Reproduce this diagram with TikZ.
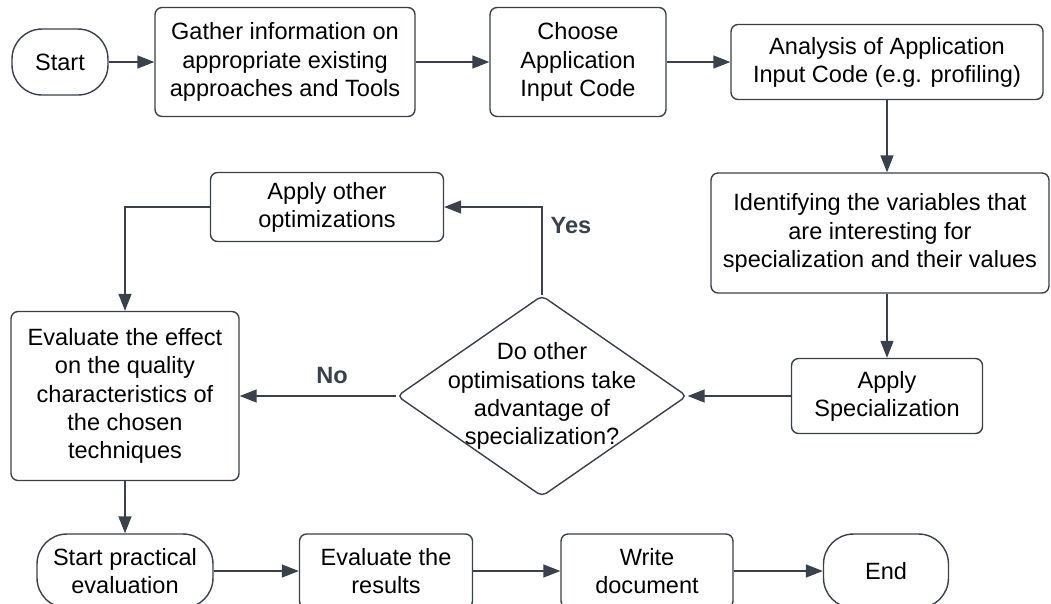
\documentclass[tikz,border=0pt]{standalone}
\usepackage{fontspec}
\setmainfont{Liberation Sans}
\usetikzlibrary{shapes.geometric,arrows.meta}
\definecolor{linegray}{HTML}{3A414A}
\tikzset{
    box/.style={draw=linegray, line width=0.8pt, rounded corners=4pt, align=center, inner sep=2pt},
    terminal/.style={box, rounded corners=0.6cm},
    decision/.style={draw=linegray, line width=0.8pt, diamond, rounded corners=3pt,
        minimum width=5.8cm, minimum height=4.02cm, inner sep=0pt},
    flow/.style={draw=linegray, line width=0.8pt, -{Triangle[length=0.34cm,width=0.26cm]}},
    answer/.style={font=\fontsize{13.4pt}{16pt}\selectfont\bfseries, text=linegray},
}
\begin{document}
\begin{tikzpicture}[x=0.02cm, y=-0.02cm, font=\fontsize{13.4pt}{16pt}\selectfont]
    \useasboundingbox (0,0) rectangle (1051,603);
    % Top row
        \node[terminal, minimum width=1.92cm, minimum height=1.32cm] (start) at (60,62) {Start};
        \node[box, minimum width=5.2cm, minimum height=2.18cm] (gather) at (285,62) {Gather information on\\appropriate existing\\approaches and Tools};
        \node[box, minimum width=3.52cm, minimum height=2.18cm] (choose) at (578,62) {Choose\\Application\\Input Code};
        \node[box, minimum width=6.24cm, minimum height=1.5cm] (analysis) at (887,62) {Analysis of Application\\Input Code (e.g. profiling)};
    % Right column
        \node[box, minimum width=6.76cm, minimum height=2.4cm] (identify) at (880,233) {Identifying the variables that\\are interesting for\\specialization and their values};
        \node[box, minimum width=3.82cm, minimum height=1.5cm] (applyspec) at (887,396) {Apply\\Specialization};
    % Decision and loop
        \node[decision] (dec) at (542,396) {};
        \node[align=center] (dectext) at (dec.center) {Do other\\optimisations take\\advantage of\\specialization?};
        \node[box, minimum width=4.66cm, minimum height=1.38cm] (other) at (327,207) {Apply other\\optimizations};
        \node[box, minimum width=4.56cm, minimum height=3.38cm] (effect) at (125,396) {Evaluate the effect\\on the quality\\characteristics of\\the chosen\\techniques};
        \node[answer] (yes) at (571,226) {Yes};
        \node[answer] (no) at (332,376) {No};
    % Bottom row
        \node[terminal, minimum width=3.52cm, minimum height=1.48cm] (practical) at (125,571) {Start practical\\evaluation};
        \node[box, minimum width=3.46cm, minimum height=1.48cm] (results) at (386,571) {Evaluate the\\results};
        \node[box, minimum width=3.44cm, minimum height=1.48cm] (write) at (647,571) {Write\\document};
        \node[terminal, minimum width=2.5cm, minimum height=1.48cm] (finish) at (886,571) {End};
    % Connectors
        \draw[flow] (start) -- (gather);
        \draw[flow] (gather) -- (choose);
        \draw[flow] (choose) -- (analysis);
        \draw[flow] (analysis.south) -- (analysis.south |- identify.north);
        \draw[flow] (identify.south -| applyspec.north) -- (applyspec.north);
        \draw[flow] (applyspec) -- (dec);
        \draw[flow] (dec.north) |- (other.east);
        \draw[flow] (other.west) -| (effect.north);
        \draw[flow] (dec.west) -- (effect.east);
        \draw[flow] (effect.south) -- (practical.north);
        \draw[flow] (practical) -- (results);
        \draw[flow] (results) -- (write);
        \draw[flow] (write) -- (finish);
\end{tikzpicture}
\end{document}
